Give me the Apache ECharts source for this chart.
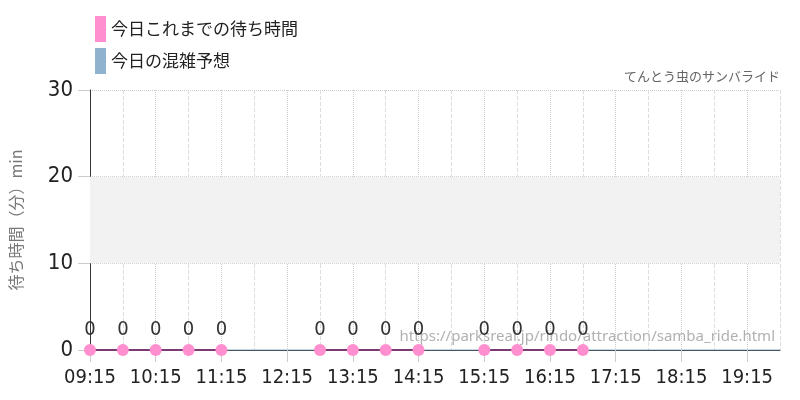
<!DOCTYPE html>
<html><head><meta charset="utf-8">
<script src="https://cdn.jsdelivr.net/npm/echarts@6/dist/echarts.min.js"></script>
<style>html,body{margin:0;padding:0;background:#fff}#c{width:800px;height:400px}</style>
</head><body><div id="c"></div>
<script>
const times = ['09:15','09:45','10:15','10:45','11:15','11:45','12:15','12:45','13:15','13:45','14:15','14:45','15:15','15:45','16:15','16:45','17:15','17:45','18:15','18:45','19:15','19:45'];
const waitTimes = [0,0,0,0,0,null,null,0,0,0,0,null,0,0,0,0,null,null,null,null,null,null];
const forecast = [0,0,0,0,0,0,0,0,0,0,0,0,0,0,0,0,0,0,0,0,0,0];
const yTicks = [0,10,20,30];
const seriesNames = ['今日これまでの待ち時間','今日の混雑予想'];
const numFont = "'Liberation Sans Narrow','DejaVu Sans Condensed','Roboto',sans-serif";
const jpFont = "'Noto Sans CJK JP','Noto Sans',sans-serif";
const chart = echarts.init(document.getElementById('c'));
chart.setOption({
  animation:false,
  grid:{left:89,right:20,top:90,bottom:50},
  legend:{orient:'vertical',left:90,top:11,itemGap:6,itemWidth:11,itemHeight:26,icon:'rect',
    textStyle:{fontFamily:jpFont,fontSize:17,color:'#222'},
    data:seriesNames},
  graphic:[
    {type:'text',right:20,top:70,z:0,style:{text:'てんとう虫のサンバライド',fontFamily:jpFont,fontSize:13,fill:'#666'}},
    {type:'text',right:25,top:329,z:0,style:{text:'https://parksreal.jp/rindo/attraction/samba_ride.html',fontFamily:"'Noto Sans',sans-serif",fontSize:15,fill:'rgba(150,150,150,0.75)'}}
  ],
  xAxis:[{
    type:'category',data:times,boundaryGap:false,
    axisLine:{lineStyle:{color:'#333',width:1}},
    axisTick:{interval:(i)=>i%2===0,length:12,lineStyle:{color:'#ccc'}},
    axisLabel:{interval:(i)=>i%2===0,fontFamily:numFont,fontSize:20,color:'#222',margin:18},
    splitLine:{show:true,interval:(i)=>i%2===0,lineStyle:{color:'#ccc',type:'dotted'}}
  },{
    type:'category',data:times,boundaryGap:false,position:'bottom',
    axisLine:{show:false},axisTick:{show:false},axisLabel:{show:false},
    splitLine:{show:true,interval:(i)=>i%2===1,lineStyle:{color:'#ddd',type:'dashed'}}
  }],
  yAxis:{type:'value',min:0,max:30,interval:10,
    name:'待ち時間（分）min',nameLocation:'middle',nameGap:66,
    nameTextStyle:{fontFamily:jpFont,fontSize:16,color:'#777'},
    axisLine:{show:true,lineStyle:{color:'#333'}},
    axisTick:{show:true,length:12,lineStyle:{color:'#ccc'}},
    axisLabel:{fontFamily:numFont,fontSize:22,color:'#222',margin:17,formatter:(v)=>yTicks.includes(v)?String(v):''},
    splitLine:{lineStyle:{color:'#ccc',type:'dotted'}}
  },
  series:[
    {name:seriesNames[0],type:'line',data:waitTimes,connectNulls:false,z:4,
      symbol:'circle',symbolSize:12,itemStyle:{color:'#ff8fcf'},
      lineStyle:{color:'#7a3a72',width:2},
      label:{show:true,position:'top',distance:4,fontFamily:numFont,fontSize:20,color:'#333'}},
    {name:seriesNames[1],type:'line',data:forecast,z:3,symbol:'none',
      itemStyle:{color:'#8fb2cf'},lineStyle:{color:'#8fb2cf',width:1},
      markArea:{silent:true,itemStyle:{color:'#f2f2f2'},data:[[{yAxis:10},{yAxis:20}]]}}
  ]
});
</script></body></html>
